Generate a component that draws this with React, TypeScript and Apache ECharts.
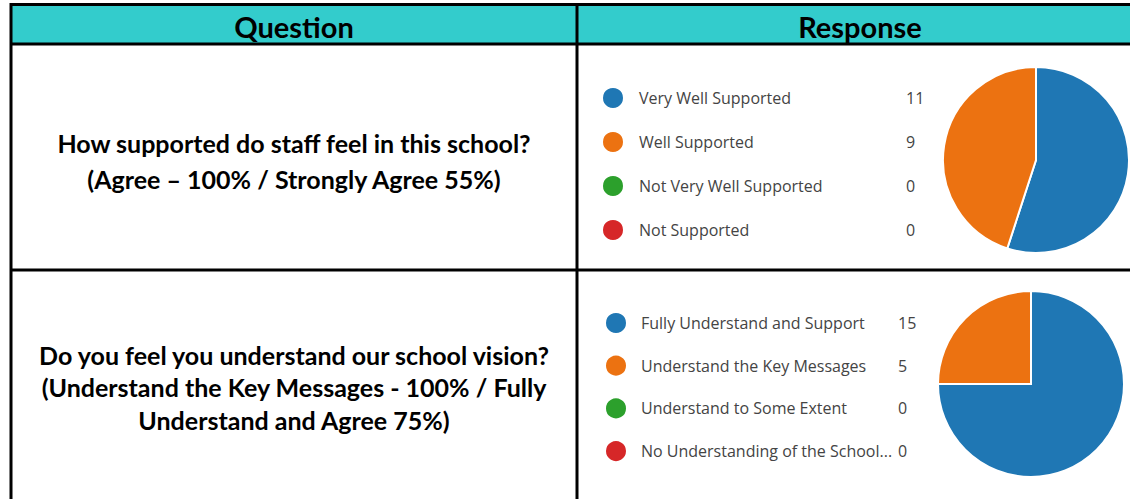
import React, { useEffect, useRef } from "react";
import * as echarts from "echarts";

const headers = ["Question", "Response"];
const questionLines1 = ["How supported do staff feel in this school?", "(Agree – 100% / Strongly Agree 55%)"];
const questionLines2 = [
  "Do you feel you understand our school vision?",
  "(Understand the Key Messages - 100% / Fully",
  "Understand and Agree 75%)",
];
const supportCategories = ["Very Well Supported", "Well Supported", "Not Very Well Supported", "Not Supported"];
const supportValues = [11, 9, 0, 0];
const visionCategories = [
  "Fully Understand and Support",
  "Understand the Key Messages",
  "Understand to Some Extent",
  "No Understanding of the School Vision",
];
const visionValues = [15, 5, 0, 0];
const sliceColors = ["#1f77b4", "#ec7211", "#2ca02c", "#d62728"];

const LEGEND_FONT = "'Segoe UI', 'Open Sans', sans-serif";
const BOLD_FONT = "Lato, 'Open Sans', sans-serif";

export default function App() {
  const ref = useRef<HTMLDivElement>(null);
  useEffect(() => {
    if (!ref.current) return;
    const chart = echarts.init(ref.current, null, { renderer: "svg" });
    const lineStyle = { stroke: "#000", lineWidth: 3 };
    const mkData = (cats: string[], vals: number[]) =>
      cats.map((c, i) => ({ name: c, value: vals[i], itemStyle: { color: sliceColors[i] } }));
    const lookup = (name: string) => {
      let i = supportCategories.indexOf(name);
      if (i >= 0) return supportValues[i];
      i = visionCategories.indexOf(name);
      return visionValues[i];
    };
    chart.setOption({
      animation: false,
      backgroundColor: "#fff",
      graphic: [
        { type: "rect", shape: { x: 11, y: 4, width: 1140, height: 40 }, style: { fill: "#33CCCC" } },
        { type: "line", shape: { x1: 10, y1: 4.5, x2: 1140, y2: 4.5 }, style: lineStyle },
        { type: "line", shape: { x1: 10, y1: 44, x2: 1140, y2: 44 }, style: lineStyle },
        { type: "line", shape: { x1: 10, y1: 270, x2: 1140, y2: 270 }, style: lineStyle },
        { type: "line", shape: { x1: 11, y1: 3, x2: 11, y2: 499 }, style: lineStyle },
        { type: "line", shape: { x1: 577, y1: 3, x2: 577, y2: 499 }, style: lineStyle },
        {
          type: "text", x: 294, y: 26,
          style: { text: headers[0], fontFamily: BOLD_FONT, fontWeight: "bold", fontSize: 29, fill: "#000", align: "center", verticalAlign: "middle" },
        },
        {
          type: "text", x: 860, y: 26,
          style: { text: headers[1], fontFamily: BOLD_FONT, fontWeight: "bold", fontSize: 29, fill: "#000", align: "center", verticalAlign: "middle" },
        },
        {
          type: "text", x: 294, y: 161,
          style: { text: questionLines1.join("\n"), fontFamily: BOLD_FONT, fontWeight: "bold", fontSize: 25, lineHeight: 36, fill: "#000", align: "center", verticalAlign: "middle" },
        },
        {
          type: "text", x: 294, y: 387,
          style: { text: questionLines2.join("\n"), fontFamily: BOLD_FONT, fontWeight: "bold", fontSize: 25, lineHeight: 32.5, fill: "#000", align: "center", verticalAlign: "middle" },
        },
      ],
      legend: [
        {
          data: supportCategories,
          orient: "vertical",
          left: 596,
          top: 81,
          icon: "circle",
          itemWidth: 22,
          itemHeight: 22,
          itemGap: 20,
          selectedMode: false,
          formatter: (name: string) => `{n|${name}}{v|${lookup(name)}}`,
          textStyle: {
            color: "#444",
            fontFamily: LEGEND_FONT,
            fontSize: 16,
            rich: {
              n: { width: 267, padding: [0, 0, 0, 10], color: "#444", fontFamily: LEGEND_FONT, fontSize: 16 },
              v: { color: "#444", fontFamily: LEGEND_FONT, fontSize: 16 },
            },
          },
        },
        {
          data: visionCategories,
          orient: "vertical",
          left: 599,
          top: 306,
          icon: "circle",
          itemWidth: 22,
          itemHeight: 22,
          itemGap: 18.7,
          selectedMode: false,
          formatter: (name: string) =>
            `{n|${echarts.format.truncateText(name, 256, "16px 'Open Sans'", "...")}}{v|${lookup(name)}}`,
          textStyle: {
            color: "#444",
            fontFamily: LEGEND_FONT,
            fontSize: 16,
            rich: {
              n: { width: 257, padding: [0, 0, 0, 9], color: "#444", fontFamily: LEGEND_FONT, fontSize: 16 },
              v: { color: "#444", fontFamily: LEGEND_FONT, fontSize: 16 },
            },
          },
        },
      ],
      series: [
        {
          type: "pie",
          center: [1036, 160],
          radius: 93,
          startAngle: 90,
          clockwise: true,
          label: { show: false },
          labelLine: { show: false },
          emphasis: { disabled: true },
          itemStyle: { borderColor: "#fff", borderWidth: 2 },
          data: mkData(supportCategories, supportValues),
        },
        {
          type: "pie",
          center: [1031, 384],
          radius: 93,
          startAngle: 90,
          clockwise: true,
          label: { show: false },
          labelLine: { show: false },
          emphasis: { disabled: true },
          itemStyle: { borderColor: "#fff", borderWidth: 2 },
          data: mkData(visionCategories, visionValues),
        },
      ],
    });
    return () => chart.dispose();
  }, []);
  return <div ref={ref} style={{ position: "absolute", left: 0, top: 0, width: 1130, height: 499 }} />;
}
